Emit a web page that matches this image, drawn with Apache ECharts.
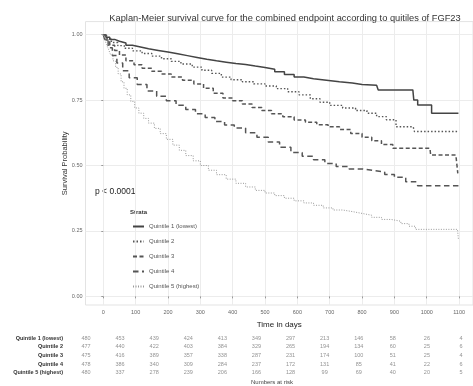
<!DOCTYPE html>
<html lang="en" style="height: 100%">
<head>
<meta charset="utf-8">
<title>Kaplan-Meier FGF23</title>
</head>
<body style="height: 100%; margin: 0; background: #fff">
<div id="container" style="width: 473px; height: 386px"></div>

<script type="text/javascript" src="https://cdn.jsdelivr.net/npm/echarts@6/dist/echarts.min.js"></script>

<script type="text/javascript">

var strata = ['Quintile 1 (lowest)', 'Quintile 2', 'Quintile 3', 'Quintile 4', 'Quintile 5 (highest)'];

// [time in days, survival probability]
var q1 = [[0,1],[8,0.99],[20,0.982],[35,0.975],[50,0.968],[70,0.96],[90,0.953],[115,0.946],[140,0.94],[170,0.934],[200,0.927],[230,0.92],[260,0.913],[290,0.906],[320,0.9],[350,0.895],[380,0.89],[410,0.886],[440,0.88],[470,0.875],[500,0.868],[530,0.858],[560,0.848],[590,0.838],[620,0.832],[650,0.826],[690,0.82],[730,0.815],[770,0.81],[800,0.807],[845,0.8],[850,0.789],[957,0.789],[960,0.75],[972,0.731],[1015,0.70],[1098,0.70]];
var q2 = [[0,1],[10,0.985],[25,0.97],[45,0.958],[65,0.948],[90,0.938],[120,0.928],[150,0.918],[180,0.908],[210,0.898],[240,0.888],[275,0.876],[305,0.864],[335,0.852],[365,0.838],[395,0.828],[430,0.82],[465,0.812],[500,0.804],[535,0.794],[570,0.782],[605,0.77],[640,0.755],[670,0.742],[700,0.73],[740,0.72],[780,0.71],[815,0.7],[845,0.687],[875,0.675],[905,0.648],[958,0.648],[962,0.63],[1098,0.63]];
var q3 = [[0,1],[8,0.98],[20,0.96],[35,0.94],[50,0.922],[70,0.9],[95,0.885],[120,0.872],[150,0.86],[180,0.85],[210,0.838],[245,0.826],[280,0.812],[310,0.795],[340,0.776],[370,0.758],[400,0.748],[430,0.735],[460,0.722],[490,0.71],[520,0.698],[555,0.686],[590,0.674],[625,0.665],[660,0.656],[695,0.648],[730,0.638],[765,0.622],[800,0.608],[830,0.595],[860,0.58],[895,0.566],[1010,0.566],[1012,0.54],[1090,0.54],[1096,0.47]];
var q4 = [[0,1],[6,0.975],[15,0.95],[28,0.92],[42,0.892],[60,0.862],[80,0.835],[105,0.81],[135,0.785],[165,0.765],[195,0.748],[225,0.73],[255,0.714],[285,0.698],[315,0.684],[345,0.668],[375,0.655],[405,0.643],[440,0.625],[475,0.608],[510,0.59],[545,0.57],[580,0.55],[615,0.535],[650,0.522],[685,0.508],[720,0.496],[760,0.487],[800,0.48],[840,0.475],[870,0.466],[900,0.455],[935,0.438],[968,0.438],[972,0.423],[1098,0.423]];
var q5 = [[0,1],[5,0.98],[10,0.962],[16,0.945],[22,0.925],[30,0.9],[38,0.875],[46,0.85],[55,0.82],[64,0.795],[74,0.77],[85,0.745],[97,0.72],[110,0.7],[125,0.68],[140,0.662],[158,0.642],[176,0.622],[195,0.6],[215,0.578],[235,0.558],[255,0.538],[278,0.518],[300,0.5],[325,0.482],[350,0.465],[380,0.448],[410,0.432],[440,0.418],[470,0.405],[500,0.395],[530,0.385],[560,0.375],[590,0.365],[620,0.357],[650,0.348],[680,0.338],[710,0.33],[740,0.324],[770,0.317],[800,0.31],[830,0.302],[860,0.294],[890,0.287],[920,0.278],[945,0.268],[965,0.256],[1095,0.256],[1098,0.218]];

var xTicks = [0, 100, 200, 300, 400, 500, 600, 700, 800, 900, 1000, 1100];
var yTicks = [0, 0.25, 0.5, 0.75, 1];

// numbers at risk, one row per quintile, one value per x tick
var risk = [
    [480, 453, 439, 424, 413, 349, 297, 213, 146, 58, 26, 4],
    [477, 440, 422, 403, 384, 329, 265, 194, 134, 60, 25, 6],
    [475, 416, 389, 357, 338, 287, 231, 174, 100, 51, 25, 4],
    [478, 386, 340, 309, 284, 237, 172, 131, 85, 41, 22, 6],
    [480, 337, 278, 239, 206, 166, 128, 99, 69, 40, 20, 5]
];

var curves = [q1, q2, q3, q4, q5];
var lineStyles = [
    { color: '#444', width: 1.5, type: 'solid' },
    { color: '#555', width: 1.4, type: [1.5, 2] },
    { color: '#555', width: 1.5, type: [4, 2.5] },
    { color: '#555', width: 1.5, type: [5.5, 3.5] },
    { color: '#999', width: 1, type: [1, 1.5] }
];

var riskData = [];
risk.forEach(function (row, i) {
    row.forEach(function (n, j) {
        riskData.push([xTicks[j], strata[i], n]);
    });
});

var series = curves.map(function (c, i) {
    return {
        name: strata[i],
        type: 'line',
        step: 'end',
        showSymbol: false,
        symbol: 'none',
        data: c,
        lineStyle: lineStyles[i],
        itemStyle: { color: lineStyles[i].color },
        xAxisIndex: 0,
        yAxisIndex: 0
    };
});
series.push({
    name: 'risk',
    type: 'scatter',
    xAxisIndex: 1,
    yAxisIndex: 1,
    symbolSize: 0,
    data: riskData,
    label: {
        show: true,
        position: 'inside',
        formatter: function (p) { return p.value[2]; },
        fontSize: 5.5,
        color: '#777',
        fontFamily: 'Liberation Sans'
    }
});

var dom = document.getElementById('container');
var myChart = echarts.init(dom, null, { renderer: 'canvas' });

var option = {
    animation: false,
    textStyle: { fontFamily: 'Liberation Sans' },
    title: {
        text: 'Kaplan-Meier survival curve for the combined endpoint according to quitiles of FGF23',
        left: 280,
        top: 9,
        textAlign: 'center',
        textStyle: { fontSize: 9.3, fontWeight: 'normal', color: '#333', fontFamily: 'Liberation Sans' }
    },
    legend: {
        data: strata,
        orient: 'vertical',
        left: 132,
        top: 223.5,
        padding: 0,
        itemWidth: 11,
        itemHeight: 6,
        itemGap: 9,
        itemStyle: { opacity: 0, borderWidth: 0 },
        textStyle: { fontSize: 6, color: '#555', fontFamily: 'Liberation Sans' }
    },
    grid: [
        { left: 85.5, top: 21.6, right: 0, bottom: 81, show: true, borderColor: '#e3e3e3', borderWidth: 1, backgroundColor: '#fff' },
        { left: 86, right: 12, top: 334, height: 43 }
    ],
    xAxis: [
        {
            type: 'value',
            gridIndex: 0,
            min: -55,
            max: 1143,
            name: 'Time in days',
            nameLocation: 'middle',
            nameGap: 16,
            nameMoveOverlap: false,
            nameTextStyle: { fontSize: 8, color: '#222' },
            axisLine: { show: false },
            axisTick: { show: true, length: 2, lineStyle: { color: '#999' }, customValues: xTicks },
            axisLabel: {
                fontSize: 5.5, color: '#666', margin: 4, customValues: xTicks,
                formatter: function (v) { return String(v); }
            },
            splitLine: { show: true, lineStyle: { color: '#ececec', width: 1 } }
        },
        {
            type: 'value',
            gridIndex: 1,
            min: 0,
            max: 1100,
            show: false
        }
    ],
    yAxis: [
        {
            type: 'value',
            gridIndex: 0,
            min: -0.033,
            max: 1.05,
            name: 'Survival Probability',
            nameLocation: 'middle',
            nameGap: 17,
            nameMoveOverlap: false,
            nameTextStyle: { fontSize: 7.5, color: '#333' },
            axisLine: { show: false },
            axisTick: { show: true, length: 2, lineStyle: { color: '#999' }, customValues: yTicks },
            axisLabel: {
                fontSize: 5.5, color: '#666', margin: 3, customValues: yTicks,
                formatter: function (v) { return v.toFixed(2); }
            },
            splitLine: { show: true, lineStyle: { color: '#ececec', width: 1 } }
        },
        {
            type: 'category',
            gridIndex: 1,
            data: strata,
            inverse: true,
            axisLine: { show: false },
            axisTick: { show: false },
            splitLine: { show: false },
            axisLabel: { fontSize: 5.5, fontWeight: 'bold', color: '#333', margin: 23 }
        }
    ],
    graphic: [
        { type: 'text', left: 95, top: 187, style: { text: 'p < 0.0001', fontSize: 8.5, fill: '#222', fontFamily: 'Liberation Sans' } },
        { type: 'text', left: 130, top: 209, style: { text: 'Strata', fontSize: 6, fontWeight: 'bold', fill: '#333', fontFamily: 'Liberation Sans' } },
        { type: 'text', left: 251, top: 379, style: { text: 'Numbers at risk', fontSize: 6, fill: '#444', fontFamily: 'Liberation Sans' } }
    ],
    series: series
};

myChart.setOption(option);
window.addEventListener('resize', myChart.resize);
</script>
</body>
</html>
